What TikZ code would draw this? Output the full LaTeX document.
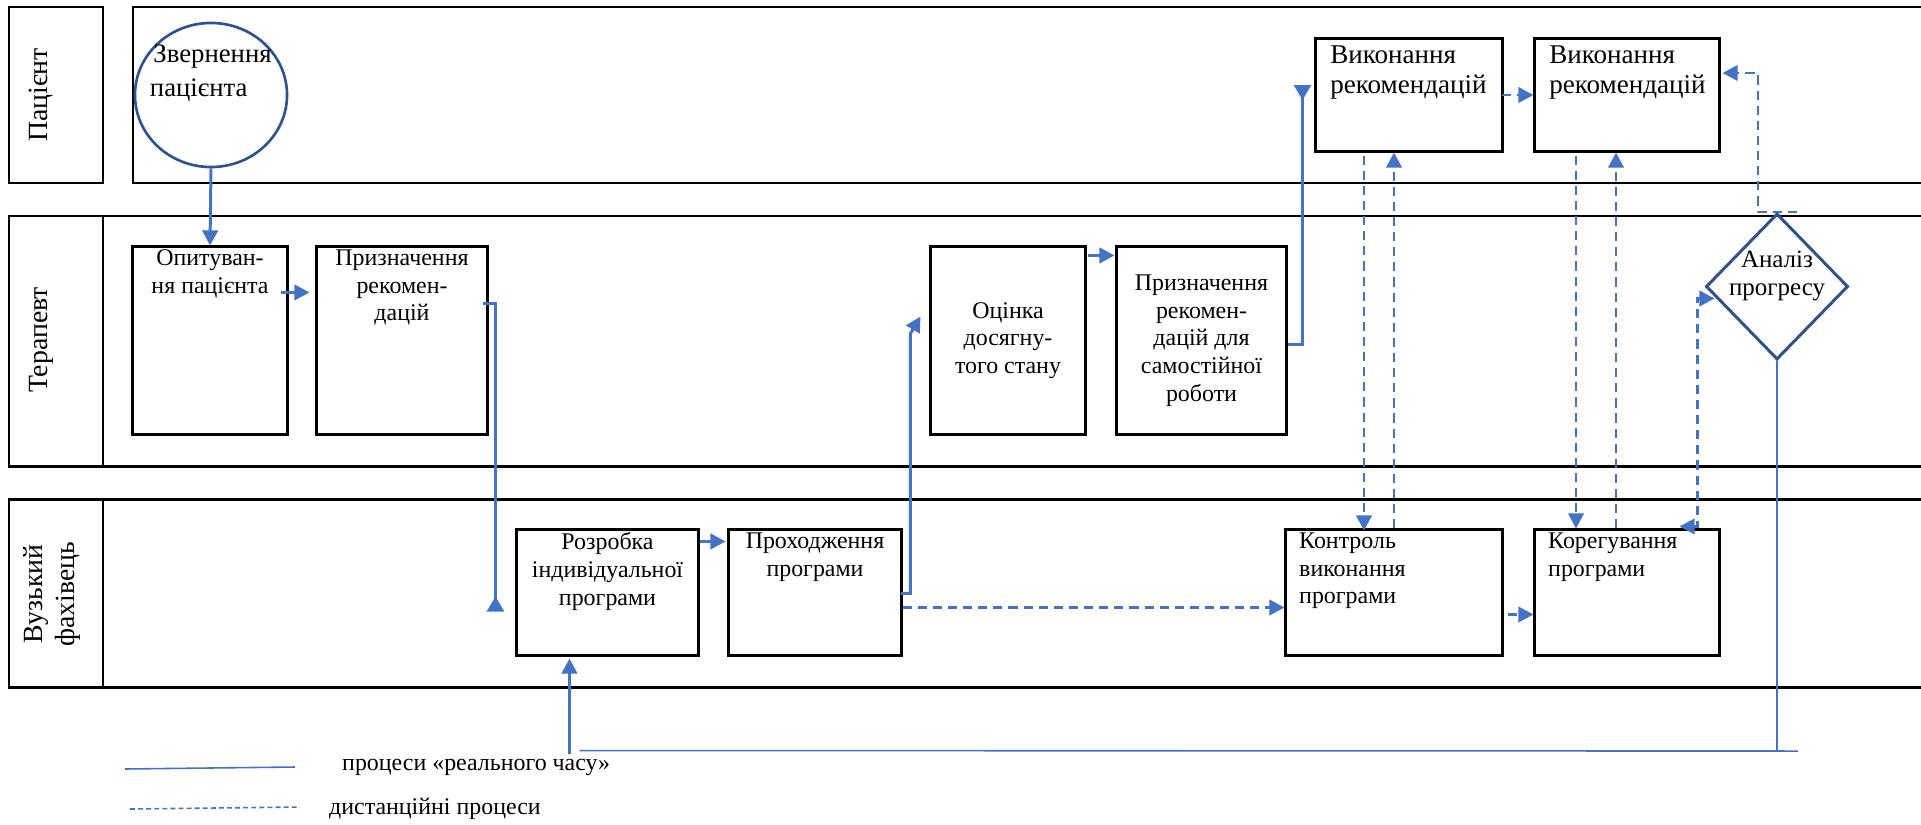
\documentclass[tikz,border=0pt]{standalone}
\usepackage{fontspec}
\setmainfont{Liberation Serif}
\usetikzlibrary{calc}
\usetikzlibrary{arrows.meta}
\usetikzlibrary{shapes.geometric}

\begin{document}
\begin{tikzpicture}[x=0.01cm,y=-0.01cm]

\definecolor{linkblue}{RGB}{68,114,196}
\definecolor{shapeblue}{RGB}{47,82,143}
\colorlet{lanecolor}{black}

\tikzset{
  txt/.style={font=\fontsize{6.8}{7.9}\selectfont, inner sep=1pt, align=center},
  bigtxt/.style={txt, font=\fontsize{7.7}{8.4}\selectfont},
  lanetxt/.style={font=\fontsize{7.9}{9.2}\selectfont, rotate=90, align=center, inner sep=0pt},
  lane/.style={draw=lanecolor, line width=0.85pt},
  box/.style={draw, rectangle, line width=0.85pt, inner sep=0pt},
  flow/.style={draw=linkblue, line width=0.85pt, -{Triangle[length=4.3pt,width=4.4pt]}},
  flowrev/.style={draw=linkblue, line width=0.85pt, -{Triangle[length=4.3pt,width=4.8pt,reversed]}},
  realline/.style={draw=linkblue, line width=0.45pt},
  remote/.style={draw=linkblue, line width=0.75pt, dash pattern=on 2.6pt off 1.7pt, -{Triangle[length=4.3pt,width=4.4pt]}},
}

\useasboundingbox (0,0) rectangle (1921,824);

% DRAW THE LANES
\def\labl{9}
\def\labr{103}
\def\lanend{1921}
\draw[lane] (\labl,7) rectangle (\labr,183);
\draw[lane] (\lanend,7) -- (133,7) -- (133,183) -- (\lanend,183);
\draw[lane] (\lanend,216) -- (\labl,216) -- (\labl,466) -- (\lanend,466);
\draw[lane] (\labr,216) -- (\labr,466);
\draw[lane] (\lanend,499) -- (\labl,499) -- (\labl,687) -- (\lanend,687);
\draw[lane] (\labr,499) -- (\labr,687);

\node[lanetxt] (pacient) at (41,95) {Пацієнт};
\node[lanetxt] (terapevt) at (41,340) {Терапевт};
\node[lanetxt] (vuzkyi) at (52,594) {Вузький\\фахівець};

% DRAW THE PROCESS NODES
\node[ellipse, draw=shapeblue, line width=0.75pt, minimum width=1.52cm, minimum height=1.44cm, inner sep=0pt,
  label={[txt, font=\fontsize{7.6}{9.4}\selectfont, align=left, anchor=north west, xshift=-3pt, yshift=0.6pt]north west:{\hspace*{1pt}Звернення\\пацієнта}}] (zvern) at (211,95) {};

\node[box, minimum width=1.54cm, minimum height=1.87cm,
  label={[txt, anchor=north]north:{Опитуван-\\ня пацієнта}}] (opyt) at (210,340.5) {};
\node[box, minimum width=1.70cm, minimum height=1.87cm,
  label={[txt, anchor=north]north:{Призначення\\рекомен-\\дацій}}] (pryzn) at (402,340.5) {};
\node[box, minimum width=1.54cm, minimum height=1.87cm] (otsin) at (1008,340.5) {};
\node[txt] (otsintxt) at (otsin) {Оцінка\\досягну-\\того стану};
\node[box, minimum width=1.69cm, minimum height=1.87cm] (pryzn2) at (1201.5,340.5) {};
\node[txt] (pryzn2txt) at (pryzn2) {Призначення\\рекомен-\\дацій для\\самостійної\\роботи};

\node[box, minimum width=1.86cm, minimum height=1.12cm,
  label={[bigtxt, align=left, anchor=north west, xshift=3.3pt, yshift=-1.2pt]north west:{Виконання\\рекомендацій}}] (vykon) at (1409,95) {};
\node[box, minimum width=1.84cm, minimum height=1.12cm,
  label={[bigtxt, align=left, anchor=north west, xshift=3.3pt, yshift=-1.2pt]north west:{Виконання\\рекомендацій}}] (vykon2) at (1627,95) {};

\node[box, minimum width=1.81cm, minimum height=1.25cm,
  label={[txt, anchor=north]north:{Розробка\\індивідуальної\\програми}}] (rozr) at (607.5,592.5) {};
\node[box, minimum width=1.72cm, minimum height=1.25cm,
  label={[txt, anchor=north]north:{Проходження\\програми}}] (prokh) at (815,592.5) {};
\node[box, minimum width=2.16cm, minimum height=1.25cm,
  label={[txt, align=left, anchor=north west, xshift=3pt]north west:{Контроль\\виконання\\програми}}] (kontr) at (1394,592.5) {};
\node[box, minimum width=1.84cm, minimum height=1.25cm,
  label={[txt, align=left, anchor=north west, xshift=3pt]north west:{Корегування\\програми}}] (koreg) at (1627,592.5) {};

\node[diamond, draw=shapeblue, line width=0.85pt, minimum width=1.42cm, minimum height=1.46cm, inner sep=0pt,
  label={[txt, font=\fontsize{7.1}{7.9}\selectfont, yshift=3pt]center:{Аналіз\\прогресу}}] (analiz) at (1777,286.5) {};

% DRAW THE "REAL TIME" LINKS
\draw[flow] (zvern.south) -- (opyt.north);
\draw[flow] ($(opyt.north east)+(-8,47)$) -- ($(pryzn.north west)+(-6,47)$);
\draw[flowrev] ($(pryzn.north east)+(-6,58)$) -| ($(rozr.west)+(-20,19)$);
\draw[flow] ($(rozr.north east)+(0,13)$) -- ($(prokh.north west)+(-2,13)$);
\draw[flow] ($(prokh.north east)+(-2,65)$) -| ($(otsin.west)+(-19,-7)$) -- ($(otsin.west)+(-9,-24)$);
\draw[flow] ($(otsin.north east)+(1,10)$) -- ($(pryzn2.north west)+(-1,10)$);
\draw[flowrev] ($(pryzn2.east)+(0,4)$) -| ($(vykon.west)+(-12,-10)$);

\draw[realline] (analiz.south) -- ++(0,390);
\draw[realline] ($(analiz.south)+(21,390)$) -- ($(rozr.south)+(-28,94)$);
\draw[flow] ($(rozr.south)+(-38,97)$) -- ($(rozr.south)+(-38,2)$);

% DRAW THE REMOTE LINKS
\draw[remote] ($(prokh.east)+(0,15)$) -- ($(kontr.west)+(0,15)$);
\draw[remote] ($(kontr.east)+(4,22)$) -- ($(koreg.west)+(0,22)$);
\draw[remote] ($(vykon.east)+(-2,0)$) -- (vykon2.west);
\draw[remote] ($(vykon.south)+(-45,3)$) -- ($(kontr.north)+(-30,2)$);
\draw[remote] (kontr.north) -- (kontr.north |- vykon.south);
\draw[remote] ($(vykon2.south)+(-51,3)$) -- ($(koreg.north)+(-51,0)$);
\draw[remote] ($(koreg.north)+(-11,0)$) -- ($(vykon2.south)+(-11,0)$);
\draw[remote] ($(analiz.north)+(20,0)$) -- ($(analiz.north)+(-19,0)$) |- ($(vykon2.east)+(2,-22)$);
\draw[remote, {Triangle[length=4.3pt,width=4.4pt]}-{Triangle[length=4.3pt,width=4.4pt]}]
  ($(koreg.north east)+(-41,-2)$) -- ($(koreg.north east)+(-23,-2)$) |- ($(analiz.west)+(10,12)$);

% DRAW THE LEGEND
\draw[realline] (125,769) -- (295,767);
\node[txt, anchor=west] (legreal) at (338,767) {процеси «реального часу»};
\draw[realline, dash pattern=on 1.4pt off 0.9pt] (130,809) -- (300,807);
\node[txt, anchor=west] (legremote) at (325,809) {дистанційні процеси};

\end{tikzpicture}
\end{document}
